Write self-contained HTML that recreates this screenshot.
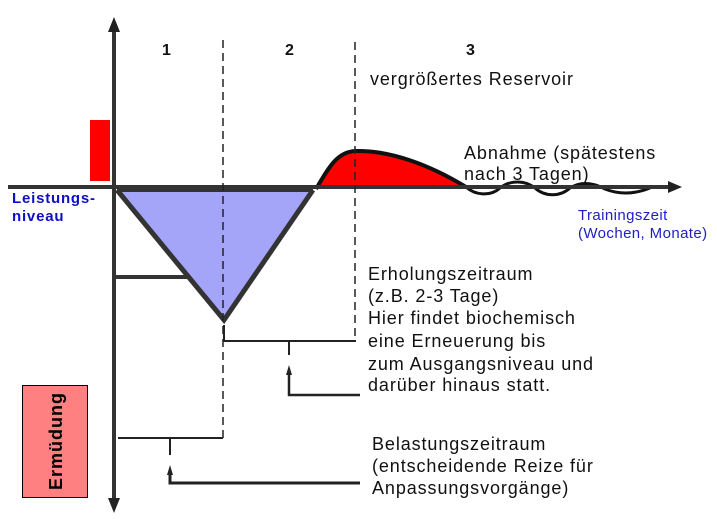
<!DOCTYPE html>
<html><head><meta charset="utf-8"><style>
html,body{margin:0;padding:0;background:#fff;width:717px;height:521px;overflow:hidden}
svg{display:block}
text{font-family:"Liberation Sans",Arial,sans-serif}
</style></head><body>
<svg width="717" height="521" viewBox="0 0 717 521" xmlns="http://www.w3.org/2000/svg">
<rect x="90" y="120" width="20" height="61" fill="#ff0000"/>
<polygon points="118,190 313,190 224,320" fill="#a4a4f8"/>
<path d="M318,187 C330,165 338,152 355,151 C390,150 430,165 465,187 Z" fill="#ff0000"/>
<path d="M316,189 C330,165 338,152 355,151 C390,150 430,165 466,187" fill="none" stroke="#111" stroke-width="4"/>
<path d="M466,187 C475,195 490,197 500,188 C510,180 525,180 535,188 C545,197 560,197 570,188 C580,182 592,182 605,189 C620,195 635,194 650,188" fill="none" stroke="#111" stroke-width="3"/>
<line x1="8" y1="187" x2="670" y2="187" stroke="#333" stroke-width="4"/>
<polygon points="668,181 682,187 668,193" fill="#222"/>
<line x1="114" y1="30" x2="114" y2="500" stroke="#333" stroke-width="4"/>
<polygon points="108,32 114,17 120,32" fill="#222"/>
<polygon points="108,498 114,513 120,498" fill="#222"/>
<line x1="117" y1="190" x2="313" y2="190" stroke="#333" stroke-width="4"/>
<polyline points="117,190 224,320 313,190" fill="none" stroke="#333" stroke-width="5"/>
<line x1="114" y1="277" x2="187" y2="277" stroke="#333" stroke-width="4"/>
<line x1="223" y1="40" x2="223" y2="438" stroke="#222" stroke-width="1.5" stroke-dasharray="8,5"/>
<line x1="355" y1="42" x2="355" y2="341" stroke="#222" stroke-width="1.5" stroke-dasharray="8,5"/>
<polyline points="224,325 224,341 356,341" fill="none" stroke="#222" stroke-width="2"/>
<line x1="289" y1="341" x2="289" y2="355" stroke="#222" stroke-width="2"/>
<polyline points="289,372 289,395 360,395" fill="none" stroke="#222" stroke-width="2.5"/>
<polygon points="286,375 289,365 292,375" fill="#222"/>
<polyline points="118,438 223,438" fill="none" stroke="#222" stroke-width="2"/>
<line x1="170" y1="438" x2="170" y2="455" stroke="#222" stroke-width="2"/>
<polyline points="170,472 170,483 360,483" fill="none" stroke="#222" stroke-width="3"/>
<polygon points="167,475 170,465 173,475" fill="#222"/>
<rect x="22.5" y="385.5" width="65" height="112" fill="#ff8080" stroke="#000" stroke-width="1"/>
<text transform="translate(62,441) rotate(-90)" text-anchor="middle" font-size="18" font-weight="bold" fill="#000" letter-spacing="1">Ermüdung</text>
<g font-weight="bold" font-size="16" fill="#111">
<text x="162" y="55">1</text><text x="285" y="55">2</text><text x="466" y="55">3</text>
</g>
<g font-size="18" fill="#111" letter-spacing="0.9">
<text x="370" y="85">vergrößertes Reservoir</text>
<text x="464" y="159">Abnahme (spätestens</text>
<text x="464" y="180">nach 3 Tagen)</text>
<text x="368" y="280">Erholungszeitraum</text>
<text x="368" y="302">(z.B. 2-3 Tage)</text>
<text x="368" y="324">Hier findet biochemisch</text>
<text x="368" y="347">eine Erneuerung bis</text>
<text x="368" y="370">zum Ausgangsniveau und</text>
<text x="368" y="391">darüber hinaus statt.</text>
<text x="372" y="450">Belastungszeitraum</text>
<text x="372" y="472">(entscheidende Reize für</text>
<text x="372" y="494">Anpassungsvorgänge)</text>
</g>
<g font-size="15" font-weight="bold" fill="#1010c0" letter-spacing="0.8">
<text x="12" y="203">Leistungs-</text>
<text x="12" y="221">niveau</text>
</g>
<g font-size="15" fill="#2020c0" letter-spacing="0.4">
<text x="578" y="220">Trainingszeit</text>
<text x="578" y="238">(Wochen, Monate)</text>
</g>
</svg>
</body></html>
